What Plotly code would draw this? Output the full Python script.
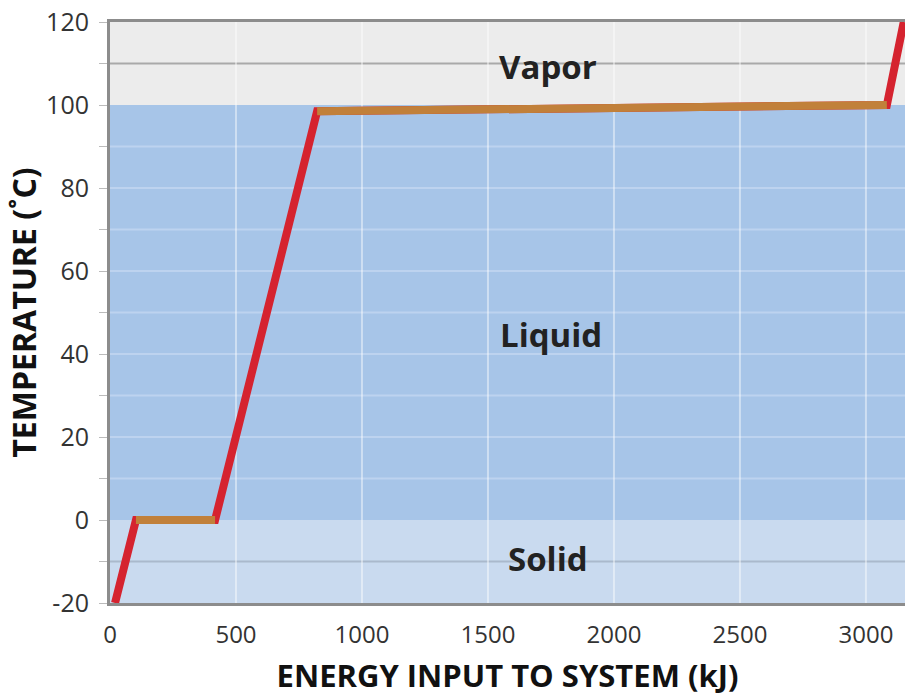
import plotly.graph_objects as go

# ---- data ----
energy_kj = [20, 103, 417, 822, 3083, 3150]
temperature_c = [-20, 0, 0, 98.5, 100, 120]
plateau_segments = [(1, 2), (3, 4)]          # index pairs of the phase-change plateaus

phase_names = ["Solid", "Liquid", "Vapor"]
phase_bounds = [(-20, 0), (0, 100), (100, 120)]
phase_label_x = [1738, 1750, 1738]
phase_label_y = [-9.2, 44.6, 109.3]

x_ticks = [0, 500, 1000, 1500, 2000, 2500, 3000]
y_ticks = [-20, 0, 20, 40, 60, 80, 100, 120]

X_MAX = 3155
phase_fill = {"Solid": "#c9daef", "Liquid": "#a7c5e8", "Vapor": "#ececec"}
grid_col = {"Solid": "#aab9cc", "Liquid": "#bdd3ef", "Vapor": "#a9a9a9"}

fig = go.Figure()

# heating curve (red), then plateaus on top (orange-brown)
fig.add_trace(go.Scatter(x=energy_kj, y=temperature_c, mode="lines",
                         line=dict(color="#d5232f", width=8), hoverinfo="skip",
                         showlegend=False))
for a, b in plateau_segments:
    fig.add_trace(go.Scatter(x=energy_kj[a:b + 1], y=temperature_c[a:b + 1], mode="lines",
                             line=dict(color="#c1803a", width=8), hoverinfo="skip",
                             showlegend=False))

shapes = []
for name, (y0, y1) in zip(phase_names, phase_bounds):
    shapes.append(dict(type="rect", xref="x", yref="y", x0=0, x1=X_MAX, y0=y0, y1=y1,
                       fillcolor=phase_fill[name], line=dict(width=0), layer="below"))
    for yv in range(y0 + 10, y1, 10):
        shapes.append(dict(type="line", xref="x", yref="y", x0=0, x1=X_MAX, y0=yv, y1=yv,
                           line=dict(color=grid_col[name], width=2), layer="below"))
for xv in x_ticks[1:]:
    shapes.append(dict(type="line", xref="x", yref="y", x0=xv, x1=xv, y0=-20, y1=120,
                       line=dict(color="rgba(255,255,255,0.45)", width=2), layer="below"))

annotations = []
for name, lx, ly in zip(phase_names, phase_label_x, phase_label_y):
    annotations.append(dict(x=lx, y=ly, xref="x", yref="y", text=name, showarrow=False,
                            font=dict(family="Open Sans", size=33, color="#222222", weight=700)))

fig.update_layout(
    width=905, height=696,
    margin=dict(l=110, r=0, t=22, b=93),
    paper_bgcolor="white", plot_bgcolor="white",
    shapes=shapes, annotations=annotations,
    xaxis=dict(range=[0, X_MAX], tickvals=x_ticks, ticktext=[str(v) for v in x_ticks],
               automargin=False,
               showgrid=False, zeroline=False, showline=True, mirror=True,
               linecolor="#8c8c8c", linewidth=3, ticks="", ticklabelstandoff=8,
               tickfont=dict(family="Open Sans", size=24, color="#333333"),
               title=dict(text="ENERGY INPUT TO SYSTEM (kJ)", standoff=18,
                          font=dict(family="Open Sans", size=31, color="#111111", weight=700))),
    yaxis=dict(range=[-20, 120], tickvals=y_ticks, ticktext=[str(v) for v in y_ticks],
               automargin=False,
               showgrid=False, zeroline=False, showline=True, mirror=False,
               linecolor="#8c8c8c", linewidth=3,
               ticks="outside", ticklen=8, tickcolor="#bbbbbb", tickwidth=1,
               ticklabelstandoff=5,
               minor=dict(dtick=10, ticks="outside", ticklen=8, tickcolor="#bbbbbb"),
               tickfont=dict(family="Open Sans", size=25, color="#333333"),
               title=dict(text="TEMPERATURE (˚C)", standoff=0,
                          font=dict(family="Open Sans", size=32, color="#111111", weight=700))),
)

fig.write_html("out.html", config={"displayModeBar": False},
               post_script="document.body.style.margin='0';"
                           "document.documentElement.style.overflow='hidden';")
